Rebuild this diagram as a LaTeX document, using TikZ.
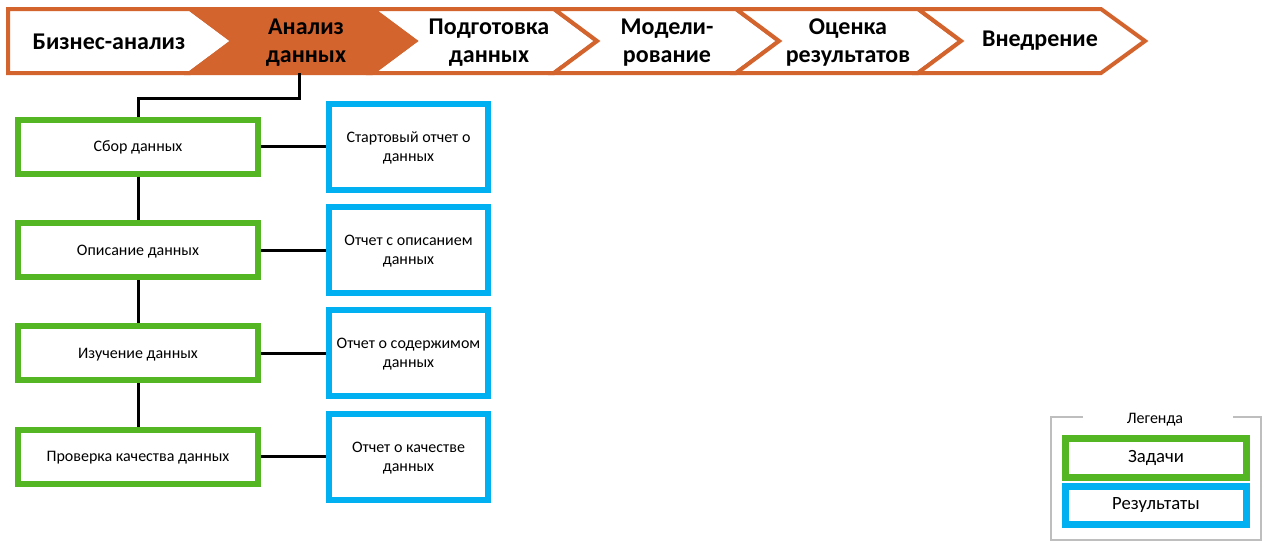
\documentclass[tikz,border=0pt]{standalone}
\usepackage{fontspec}
\setmainfont{Carlito}
\definecolor{orng}{RGB}{212,100,46}
\definecolor{grn}{RGB}{84,182,35}
\definecolor{blu}{RGB}{0,176,240}
\definecolor{legendgray}{RGB}{190,190,190}
\begin{document}
\begin{tikzpicture}[x=0.75pt,y=-0.75pt,
  chevline/.style={draw=orng,line width=3pt,line join=miter,fill=white},
  chevfill/.style={draw=orng,line width=3pt,line join=miter,fill=orng},
  chevtext/.style={font=\fontsize{18}{20.5}\selectfont\bfseries,align=center,inner sep=0pt},
  task/.style={draw=grn,line width=4.5pt,fill=white,minimum width=180pt,minimum height=40.5pt,inner sep=0pt,text depth=-0.5pt,font=\fontsize{12}{14.5}\selectfont},
  result/.style={draw=blu,line width=4.5pt,fill=white,minimum width=119.25pt,minimum height=64.5pt,inner sep=0pt,align=center,text depth=-1pt,font=\fontsize{12}{14.5}\selectfont},
  legtask/.style={draw=grn,line width=5pt,fill=white,minimum width=135.75pt,minimum height=29.25pt,inner sep=0pt,font=\fontsize{14}{16}\selectfont},
  legres/.style={draw=blu,line width=5pt,fill=white,minimum width=135.75pt,minimum height=28.5pt,inner sep=0pt,font=\fontsize{14}{16}\selectfont},
  conn/.style={draw=black,line width=2.25pt}]
\useasboundingbox[fill=white] (0,0) rectangle (1271,551);

% chevrons
\path[chevline] (8,9) -- (190,9) -- (233,41) -- (190,73) -- (8,73) -- cycle;
\path[chevline] (372,9) -- (554,9) -- (597,41) -- (554,73) -- (372,73) -- (415,41) -- cycle;
\path[chevline] (554,9) -- (736,9) -- (779,41) -- (736,73) -- (554,73) -- (597,41) -- cycle;
\path[chevline] (736,9) -- (918,9) -- (961,41) -- (918,73) -- (736,73) -- (779,41) -- cycle;
\path[chevline] (918,9) -- (1101,9) -- (1145,41) -- (1101,73) -- (918,73) -- (961,41) -- cycle;
\path[chevfill] (190,9) -- (372,9) -- (415,41) -- (372,73) -- (190,73) -- (233,41) -- cycle;

\node[chevtext] (c0) at (109,41.5) {Бизнес-анализ};
\node[chevtext] (c1) at (306,42.5) {Анализ\\данных};
\node[chevtext] (c2) at (489,42.5) {Подготовка\\данных};
\node[chevtext] (c3) at (667,42.5) {Модели-\\рование};
\node[chevtext] (c4) at (848,42.5) {Оценка\\результатов};
\node[chevtext] (c5) at (1040,41) {Внедрение};
\coordinate (c1b) at (299,73);

% tasks
\node[task] (t1) at (138,146.5) {Сбор данных};
\node[task] (t2) at (138,250) {Описание данных};
\node[task] (t3) at (138,353) {Изучение данных};
\node[task] (t4) at (138,456.5) {Проверка качества данных};

% results
\node[result] (r1) at (408.5,146.5) {Стартовый отчет о\\данных};
\node[result] (r2) at (408.5,250) {Отчет с описанием\\данных};
\node[result] (r3) at (408.5,353) {Отчет о содержимом\\данных};
\node[result] (r4) at (408.5,456.5) {Отчет о качестве\\данных};

% connectors
\draw[conn] (c1b) -- ++(0,25) -| (t1.north);
\draw[conn] (t1.south) -- (t2.north);
\draw[conn] (t2.south) -- (t3.north);
\draw[conn] (t3.south) -- (t4.north);
\draw[conn] (t1.east) -- (r1.west);
\draw[conn] (t2.east) -- (r2.west);
\draw[conn] (t3.east) -- (r3.west);
\draw[conn] (t4.east) -- (r4.west);

% legend
\node[font=\fontsize{12}{14}\selectfont,inner sep=0pt] (lt) at (1155,420) {Легенда};
\draw[legendgray,line width=1.1pt] (1083,417) -- (1051,417) -- (1051,540) -- (1261,540) -- (1261,417) -- (1233,417);
\node[legtask] (lg) at (1156,458) {Задачи};
\node[legres] (lb) at (1156,505.5) {Результаты};
\end{tikzpicture}
\end{document}
